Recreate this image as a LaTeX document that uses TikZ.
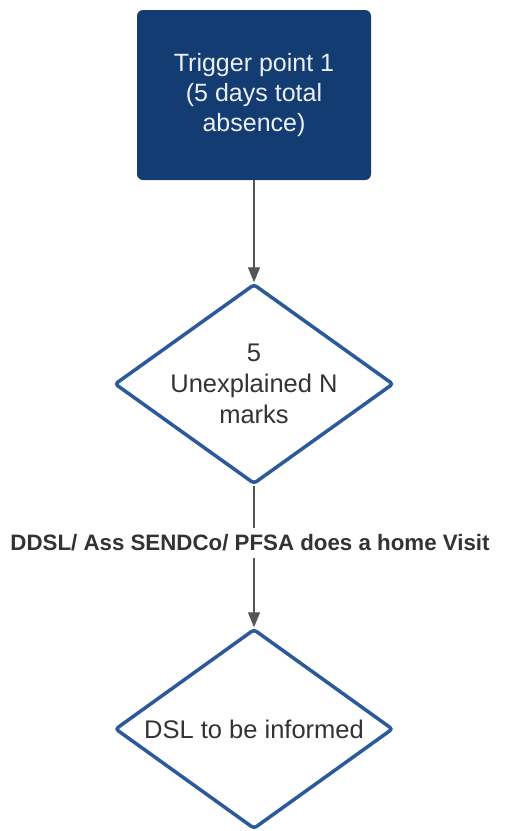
\documentclass[tikz,border=0pt]{standalone}
\usepackage{fontspec}
\setmainfont{Liberation Sans}
\usetikzlibrary{shapes.geometric,arrows.meta}
\definecolor{navy}{HTML}{123C72}
\definecolor{dblue}{HTML}{2B5A9C}
\definecolor{txtgray}{HTML}{333333}
\definecolor{linegray}{HTML}{555555}
\begin{document}
\begin{tikzpicture}[x=1pt,y=-1pt,
  topbox/.style={draw=none,fill=navy,rounded corners=6pt,minimum width=234pt,minimum height=170pt,
    text=white!92!navy,align=center,font=\fontsize{25}{30}\selectfont},
  decision/.style={diamond,draw=dblue,line width=3.5pt,fill=white,minimum width=278pt,minimum height=200pt,
    aspect=1.4,inner sep=0pt,rounded corners=3pt,text=txtgray,align=center,font=\fontsize{25.5}{31}\selectfont},
  conn/.style={draw=linegray,line width=1.2pt},
  arr/.style={conn,-{Triangle[length=15pt,width=12pt]}},
  steplabel/.style={fill=white,text=txtgray,font=\bfseries\fontsize{22.3}{24}\selectfont,inner xsep=2pt,inner ysep=0pt,minimum height=30pt}
]
\useasboundingbox (0,0) rectangle (509,831);
\node[topbox] (t) at (254,95) {Trigger point 1\\(5 days total\\absence)};
\node[decision] (d1) at (254,384) {5\\Unexplained N\\marks};
\node[steplabel] (lab) at (250,543) {DDSL/ Ass SENDCo/ PFSA does a home Visit};
\node[decision] (d2) at (254,729) {DSL to be informed};
\draw[arr] (t.south) -- (d1.north);
\draw[conn] (d1.south) -- (d1.south |- lab.north);
\draw[arr] (d1.south |- lab.south) -- (d2.north);
\end{tikzpicture}
\end{document}
